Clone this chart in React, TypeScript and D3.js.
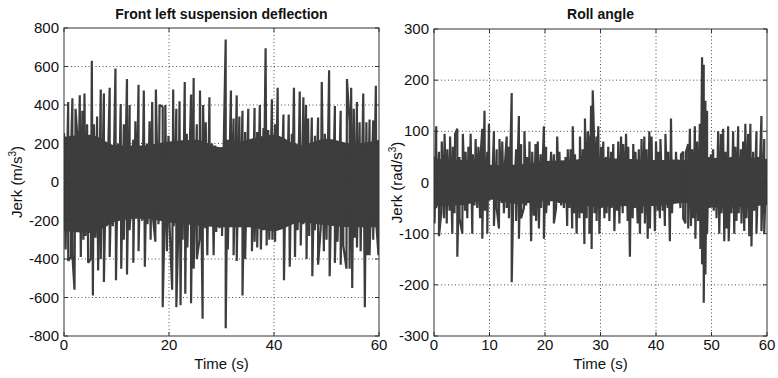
import React from "react";
import * as d3 from "d3";

// ---------- Left panel: Front left suspension deflection (jerk, m/s^3) ----------
const leftUpper: [number, number][] = [
  [0, 255], [0.8, 415], [1.4, 220], [1.6, 435], [2.2, 380], [2.5, 255], [3.0, 450], [3.5, 370], [3.9, 460], [4.4, 300],
  [5.3, 630], [5.7, 300], [6.3, 340], [7.0, 480], [7.6, 460], [8.1, 190], [8.7, 490], [9.2, 160], [9.8, 590], [10.3, 200],
  [10.8, 405], [11.4, 300], [12.0, 535], [12.5, 400], [13.2, 220], [13.6, 315], [14.2, 505], [14.6, 160], [15.2, 475], [15.8, 200],
  [16.3, 315], [16.8, 415], [17.5, 480], [17.7, 190], [18.2, 400], [18.8, 390], [19.3, 400], [19.9, 240], [20.8, 480], [21.4, 380],
  [22.0, 420], [22.5, 200], [23.0, 520], [23.4, 250], [24.2, 455], [24.7, 540], [25.3, 300], [25.9, 475], [26.5, 400], [27.0, 310],
  [27.7, 440], [28.2, 200], [28.8, 190], [29.4, 150], [30.1, 180], [30.8, 740], [31.2, 220], [31.8, 475], [32.3, 330], [32.9, 450],
  [33.4, 340], [34.0, 370], [34.5, 260], [35.1, 380], [35.8, 200], [36.3, 385], [36.8, 260], [37.3, 400], [38.0, 280], [38.4, 695],
  [38.9, 270], [39.6, 430], [40.2, 300], [40.7, 490], [41.3, 150], [41.8, 350], [42.3, 200], [42.8, 350], [43.4, 250], [43.8, 490],
  [44.3, 200], [44.9, 470], [45.6, 440], [46.1, 400], [46.5, 330], [47.2, 335], [47.8, 240], [48.4, 335], [49.1, 520], [49.7, 250],
  [50.5, 580], [51.1, 200], [51.6, 395], [52.1, 175], [52.7, 370], [53.2, 200], [53.9, 535], [54.4, 310], [54.7, 490], [55.2, 380],
  [55.8, 415], [56.3, 310], [57.0, 460], [57.6, 310], [58.2, 325], [58.9, 320], [59.4, 500], [60, 200],
];
const leftLower: [number, number][] = [
  [0.3, -350], [0.8, -410], [1.3, -390], [1.6, -380], [2.0, -560], [2.7, -210], [3.2, -390], [3.7, -300], [4.1, -280], [4.6, -420],
  [5.1, -400], [5.5, -590], [6.0, -290], [6.5, -460], [7.0, -400], [7.6, -520], [8.1, -230], [8.7, -390], [9.3, -230], [9.9, -510],
  [10.4, -190], [10.9, -450], [11.4, -300], [12.0, -480], [12.5, -250], [13.2, -420], [13.8, -160], [14.2, -360], [14.9, -200], [15.4, -440],
  [15.9, -220], [16.5, -300], [17.0, -200], [17.4, -310], [18.0, -220], [18.8, -650], [19.2, -150], [19.6, -360], [20.1, -220], [20.6, -560],
  [20.9, -230], [21.4, -650], [21.8, -230], [22.2, -640], [22.6, -300], [23.1, -580], [23.5, -340], [24.2, -630], [24.7, -450], [25.3, -400],
  [25.8, -300], [26.4, -710], [26.9, -240], [27.3, -380], [27.8, -220], [28.5, -380], [29.0, -260], [29.6, -240], [30.1, -280], [30.8, -760],
  [31.2, -350], [31.8, -220], [32.3, -380], [32.9, -410], [33.4, -220], [34.0, -590], [34.5, -400], [35.1, -230], [35.8, -360], [36.3, -310],
  [36.8, -340], [37.5, -350], [38.0, -250], [38.6, -330], [39.1, -300], [39.7, -300], [40.2, -310], [40.8, -220], [41.3, -180], [41.9, -510],
  [42.4, -220], [43.0, -440], [43.4, -220], [44.0, -390], [44.5, -250], [45.1, -330], [45.6, -220], [46.2, -400], [46.7, -280], [47.3, -490],
  [47.8, -250], [48.4, -430], [48.9, -240], [49.5, -360], [50.0, -300], [50.6, -490], [51.1, -220], [51.6, -420], [52.1, -310], [52.7, -430],
  [53.2, -330], [53.8, -450], [54.4, -450], [54.9, -550], [55.4, -290], [55.8, -340], [56.5, -360], [57.3, -650], [57.8, -380], [58.2, -380],
  [58.9, -300], [59.5, -220], [59.9, -380],
];
// edges of the densely filled core of the signal, read every 5 s
const coreTimes = [0, 5, 10, 15, 20, 25, 30, 35, 40, 45, 50, 55, 60];
const leftCoreTop = [235, 245, 190, 190, 210, 220, 180, 220, 245, 190, 225, 200, 220];
const leftCoreBottom = [-255, -265, -205, -190, -210, -225, -235, -235, -255, -210, -225, -235, -235];

// ---------- Right panel: Roll angle (jerk, rad/s^3) ----------
const rightUpper: [number, number][] = [
  [0.1, 50], [0.4, 110], [0.9, 60], [1.4, 80], [1.9, 95], [2.4, 65], [2.9, 90], [3.4, 70], [3.8, 95], [4.2, 105],
  [4.6, 50], [5.2, 95], [5.7, 60], [6.2, 70], [6.6, 95], [7.0, 55], [7.5, 85], [8.0, 70], [8.4, 55], [8.7, 105],
  [9.1, 140], [9.6, 60], [9.9, 115], [10.4, 30], [10.8, 100], [11.3, 65], [11.8, 85], [12.3, 80], [12.8, 40], [13.1, 90],
  [13.5, 70], [14.0, 175], [14.4, 30], [14.8, 65], [15.3, 130], [15.7, 75], [16.3, 100], [16.8, 50], [17.2, 80], [17.7, 60],
  [18.3, 75], [18.7, 80], [19.2, 55], [19.8, 110], [20.2, 70], [20.7, 40], [21.1, 60], [21.6, 55], [22.2, 90], [22.6, 60],
  [23.1, 40], [23.7, 50], [24.1, 65], [24.6, 65], [25.0, 110], [25.4, 55], [25.9, 45], [26.3, 90], [26.8, 65], [27.2, 125],
  [27.7, 100], [28.0, 70], [28.3, 150], [28.6, 180], [28.9, 65], [29.3, 90], [29.6, 110], [30.1, 70], [30.5, 80], [31.0, 50],
  [31.4, 70], [31.9, 60], [32.3, 75], [32.8, 45], [33.2, 80], [33.7, 90], [34.1, 75], [34.6, 95], [35.0, 70], [35.5, 45],
  [35.9, 75], [36.3, 60], [36.9, 65], [37.4, 85], [37.9, 90], [38.3, 65], [38.8, 100], [39.2, 90], [39.6, 40], [40.0, 80],
  [40.4, 60], [40.8, 85], [41.3, 40], [41.7, 95], [42.2, 60], [42.7, 125], [43.1, 45], [43.6, 60], [44.0, 45], [44.5, 55],
  [44.9, 60], [45.4, 60], [45.8, 75], [46.1, 105], [46.5, 65], [47.0, 110], [47.4, 80], [47.9, 115], [48.3, 245], [48.6, 230],
  [48.9, 160], [49.2, 140], [49.5, 50], [49.9, 55], [50.3, 65], [50.8, 45], [51.2, 100], [51.7, 95], [52.1, 105], [52.5, 60],
  [53.0, 110], [53.5, 50], [53.9, 100], [54.3, 70], [54.8, 110], [55.3, 65], [55.7, 80], [56.1, 115], [56.6, 95], [57.0, 115],
  [57.5, 60], [58.1, 100], [58.5, 50], [59.0, 130], [59.5, 85], [59.9, 45],
];
const rightLower: [number, number][] = [
  [0.1, -80], [0.4, -50], [0.9, -105], [1.3, -60], [1.8, -70], [2.3, -80], [2.8, -55], [3.3, -100], [3.7, -60], [4.2, -145],
  [4.6, -70], [5.1, -100], [5.6, -55], [6.0, -70], [6.4, -40], [6.9, -100], [7.3, -45], [7.8, -50], [8.3, -70], [8.7, -110],
  [9.2, -55], [9.6, -100], [10.0, -35], [10.4, -30], [10.8, -85], [11.3, -50], [11.7, -90], [12.2, -40], [12.6, -60], [13.1, -50],
  [13.5, -70], [14.0, -195], [14.4, -40], [14.8, -75], [15.3, -110], [15.7, -70], [16.2, -50], [16.6, -45], [17.1, -40], [17.5, -115],
  [18.0, -65], [18.4, -75], [18.9, -90], [19.3, -50], [19.8, -110], [20.2, -60], [20.7, -45], [21.1, -30], [21.6, -80], [22.0, -50],
  [22.5, -40], [22.9, -45], [23.4, -50], [24.0, -85], [24.4, -50], [24.9, -90], [25.3, -60], [25.7, -100], [26.2, -70], [26.6, -60],
  [27.1, -120], [27.5, -70], [28.0, -100], [28.4, -130], [28.9, -60], [29.3, -75], [29.8, -100], [30.2, -50], [30.7, -70], [31.1, -60],
  [31.6, -75], [32.0, -50], [32.5, -95], [33.0, -55], [33.4, -80], [34.0, -60], [34.4, -45], [34.9, -75], [35.3, -145], [35.8, -70],
  [36.2, -50], [36.7, -80], [37.1, -100], [37.5, -60], [38.0, -80], [38.5, -110], [38.9, -90], [39.4, -45], [39.8, -95], [40.3, -55],
  [40.7, -70], [41.2, -55], [41.6, -85], [42.1, -50], [42.5, -115], [42.9, -60], [43.4, -35], [43.9, -40], [44.4, -50], [44.9, -70],
  [45.3, -80], [45.8, -90], [46.3, -85], [46.7, -70], [47.1, -110], [47.6, -75], [48.0, -130], [48.3, -160], [48.6, -235], [48.9, -180],
  [49.2, -100], [49.6, -50], [50.0, -45], [50.4, -55], [50.9, -70], [51.4, -100], [51.8, -60], [52.3, -115], [52.7, -90], [53.1, -115],
  [53.6, -60], [54.1, -100], [54.5, -75], [54.9, -60], [55.4, -80], [55.9, -95], [56.3, -70], [56.8, -105], [57.2, -125], [57.7, -55],
  [58.1, -100], [58.5, -45], [59.0, -95], [59.5, -100], [59.9, -40],
];
const rightCoreTop = [46, 44, 34, 35, 42, 44, 48, 46, 44, 44, 48, 49, 46];
const rightCoreBottom = [-46, -44, -33, -42, -36, -42, -48, -46, -46, -40, -49, -48, -44];

const leftXTicks = [0, 20, 40, 60];
const leftYTicks = [-800, -600, -400, -200, 0, 200, 400, 600, 800];
const rightXTicks = [0, 10, 20, 30, 40, 50, 60];
const rightYTicks = [-300, -200, -100, 0, 100, 200, 300];

const FONT = "'Liberation Sans', Arial, Helvetica, sans-serif";
const LINE = "#3d3d3d";

// merge the positive and negative excursions into one time-ordered signal
function mergeByTime(a: [number, number][], b: [number, number][]) {
  const tagged = [
    ...a.map((d, i) => ({ d, k: 0, i })),
    ...b.map((d, i) => ({ d, k: 1, i })),
  ];
  tagged.sort((p, q) => p.d[0] - q.d[0] || p.k - q.k || p.i - q.i);
  return tagged.map((t) => t.d);
}

type PanelProps = {
  left: number; right: number; top: number; bottom: number;
  yDomain: [number, number];
  xTicks: number[]; yTicks: number[];
  data: [number, number][];
  coreTop: number[]; coreBottom: number[];
  title: string; unit: string; ylabelX: number;
};

function Panel(p: PanelProps) {
  const x = d3.scaleLinear().domain([0, 60]).range([p.left, p.right]);
  const y = d3.scaleLinear().domain(p.yDomain).range([p.bottom, p.top]);
  const line = d3.line<[number, number]>().x((d) => x(d[0])).y((d) => y(d[1]));
  const area = d3.area<number>()
    .x((_, i) => x(coreTimes[i]))
    .y0((_, i) => y(p.coreBottom[i]))
    .y1((_, i) => y(p.coreTop[i]))
    .curve(d3.curveMonotoneX);
  const clipId = "clip-" + p.left;
  const tl = 4;
  const cy = (p.top + p.bottom) / 2;
  return (
    <g>
      <defs>
        <clipPath id={clipId}>
          <rect x={p.left} y={p.top} width={p.right - p.left} height={p.bottom - p.top} />
        </clipPath>
      </defs>
      {p.xTicks.slice(1, -1).map((t) => (
        <line key={"gx" + t} x1={x(t)} x2={x(t)} y1={p.top} y2={p.bottom} stroke="#222" strokeWidth={0.8} strokeDasharray="1,2.5" />
      ))}
      {p.yTicks.slice(1, -1).map((t) => (
        <line key={"gy" + t} x1={p.left} x2={p.right} y1={y(t)} y2={y(t)} stroke="#222" strokeWidth={0.8} strokeDasharray="1,2.5" />
      ))}
      <g clipPath={`url(#${clipId})`}>
        <path d={area(p.coreTop) || ""} fill={LINE} stroke="none" />
        <path d={line(p.data) || ""} fill="none" stroke={LINE} strokeWidth={2.2} strokeLinejoin="bevel" />
      </g>
      <rect x={p.left} y={p.top} width={p.right - p.left} height={p.bottom - p.top} fill="none" stroke="#333" strokeWidth={1} />
      {p.xTicks.map((t) => (
        <g key={"tx" + t}>
          <line x1={x(t)} x2={x(t)} y1={p.bottom} y2={p.bottom - tl} stroke="#333" />
          <line x1={x(t)} x2={x(t)} y1={p.top} y2={p.top + tl} stroke="#333" />
          <text x={x(t)} y={p.bottom + 14} textAnchor="middle" fontSize={15} fontFamily={FONT} fill="#111">{t}</text>
        </g>
      ))}
      {p.yTicks.map((t) => (
        <g key={"ty" + t}>
          <line x1={p.left} x2={p.left + tl} y1={y(t)} y2={y(t)} stroke="#333" />
          <line x1={p.right} x2={p.right - tl} y1={y(t)} y2={y(t)} stroke="#333" />
          <text x={p.left - 5} y={y(t) + 5} textAnchor="end" fontSize={15} fontFamily={FONT} fill="#111">{t}</text>
        </g>
      ))}
      <text x={(p.left + p.right) / 2} y={19} textAnchor="middle" fontSize={14} fontWeight="bold" fontFamily={FONT} fill="#111">{p.title}</text>
      <text x={(p.left + p.right) / 2} y={369} textAnchor="middle" fontSize={15} fontFamily={FONT} fill="#111">Time (s)</text>
      <text transform={`translate(${p.ylabelX},${cy}) rotate(-90)`} textAnchor="middle" fontSize={15} fontFamily={FONT} fill="#111">
        <tspan>Jerk ({p.unit}/s</tspan>
        <tspan fontSize={10} dy={-6}>3</tspan>
        <tspan dy={6}>)</tspan>
      </text>
    </g>
  );
}

export default function App() {
  const leftData = mergeByTime(leftUpper, leftLower);
  const rightData = mergeByTime(rightUpper, rightLower);
  return (
    <svg width={778} height={378} style={{ position: "absolute", left: 0, top: 0, background: "#fff" }}>
      <rect width={778} height={378} fill="#fff" />
      <Panel left={64} right={379} top={28} bottom={336} yDomain={[-800, 800]} xTicks={leftXTicks} yTicks={leftYTicks}
        data={leftData} coreTop={leftCoreTop} coreBottom={leftCoreBottom}
        title="Front left suspension deflection" unit="m" ylabelX={22} />
      <Panel left={434} right={767} top={29} bottom={336} yDomain={[-300, 300]} xTicks={rightXTicks} yTicks={rightYTicks}
        data={rightData} coreTop={rightCoreTop} coreBottom={rightCoreBottom}
        title="Roll angle" unit="rad" ylabelX={402} />
    </svg>
  );
}
